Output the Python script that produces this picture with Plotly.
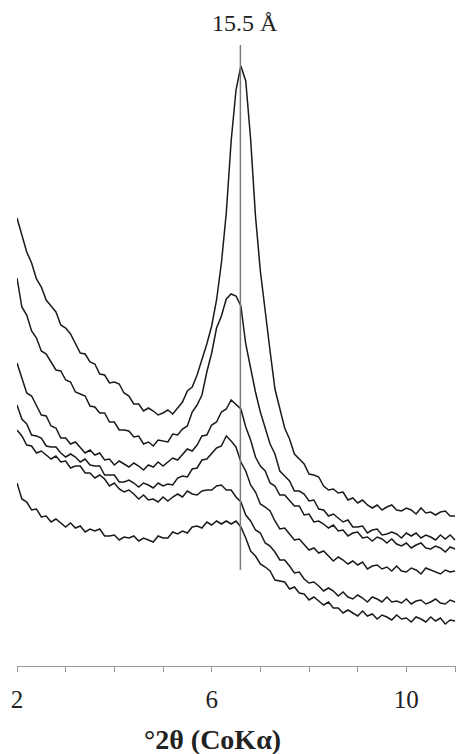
import plotly.graph_objects as go

# 2-theta grid (degrees, CoKa), 0.1 deg steps from 2.0 to 11.0
two_theta = [round(2.0 + 0.1 * i, 1) for i in range(91)]

# Intensities (arbitrary units, stacked patterns)
pattern_1 = [448, 432, 414, 403, 387, 379, 366, 360, 354, 341,
             338, 332, 322, 313, 312, 304, 302, 292, 291, 283,
             284, 282, 273, 270, 262, 262, 255, 258, 255, 251,
             253, 256, 252, 258, 264, 275, 279, 291, 306, 322,
             340, 366, 403, 453, 525, 576, 600, 585, 527, 450,
             395, 352, 315, 277, 257, 238, 227, 212, 207, 202,
             192, 191, 189, 180, 176, 177, 173, 174, 166, 168,
             163, 166, 161, 158, 161, 156, 159, 161, 156, 155,
             158, 156, 152, 158, 153, 154, 151, 154, 155, 150, 150]
pattern_2 = [388, 359, 351, 335, 328, 315, 312, 304, 296, 295,
             286, 284, 274, 272, 270, 260, 259, 253, 253, 244,
             244, 236, 236, 235, 229, 230, 222, 224, 220, 226,
             225, 224, 232, 231, 237, 240, 254, 261, 271, 294,
             313, 338, 350, 367, 372, 370, 360, 322, 298, 274,
             254, 239, 222, 212, 195, 190, 185, 175, 175, 172,
             165, 166, 157, 156, 150, 152, 148, 144, 146, 139,
             139, 140, 133, 136, 137, 131, 132, 134, 132, 128,
             133, 130, 133, 128, 131, 129, 126, 131, 127, 131, 126]
pattern_3 = [303, 287, 273, 270, 260, 251, 250, 240, 238, 228,
             228, 222, 224, 218, 213, 216, 211, 213, 206, 207,
             201, 205, 202, 199, 203, 200, 196, 201, 199, 204,
             200, 204, 208, 206, 212, 217, 215, 221, 230, 231,
             241, 244, 254, 257, 266, 261, 257, 239, 226, 209,
             200, 195, 183, 180, 171, 171, 165, 160, 160, 151,
             152, 144, 145, 142, 138, 141, 135, 136, 130, 133,
             134, 128, 129, 125, 129, 127, 123, 127, 122, 120,
             123, 118, 121, 123, 118, 117, 120, 118, 114, 119, 117]
pattern_4 = [261, 247, 242, 231, 230, 228, 220, 219, 219, 213,
             209, 212, 209, 204, 207, 201, 200, 200, 191, 191,
             191, 184, 184, 186, 183, 179, 183, 181, 178, 183,
             180, 182, 181, 188, 190, 189, 197, 198, 206, 207,
             213, 218, 220, 230, 225, 219, 204, 195, 181, 174,
             162, 159, 155, 145, 137, 138, 132, 126, 127, 122,
             116, 118, 113, 115, 110, 105, 109, 106, 102, 105,
             101, 104, 97, 100, 101, 97, 99, 95, 100, 95,
             94, 98, 96, 92, 98, 96, 94, 92, 96, 94, 95]
pattern_5 = [236, 230, 221, 220, 213, 215, 211, 207, 210, 204,
             205, 198, 200, 200, 193, 193, 188, 191, 187, 180,
             183, 177, 174, 176, 172, 167, 171, 166, 167, 164,
             169, 165, 169, 172, 169, 175, 172, 171, 175, 176,
             176, 180, 181, 176, 176, 169, 164, 151, 145, 136,
             133, 123, 120, 114, 106, 106, 100, 93, 94, 87,
             83, 84, 80, 75, 78, 75, 70, 74, 69, 67,
             71, 68, 64, 69, 67, 64, 69, 64, 65, 63,
             67, 62, 65, 66, 62, 64, 67, 63, 62, 66, 64]
pattern_6 = [183, 167, 164, 156, 157, 149, 150, 144, 147, 143,
             139, 143, 138, 140, 134, 137, 135, 137, 130, 130,
             131, 126, 129, 128, 130, 125, 128, 126, 124, 130,
             128, 128, 134, 132, 135, 133, 139, 140, 138, 144,
             141, 145, 142, 145, 142, 145, 139, 128, 115, 110,
             102, 99, 95, 86, 85, 84, 77, 79, 73, 72,
             66, 69, 65, 61, 64, 58, 58, 53, 56, 53,
             50, 55, 50, 52, 47, 51, 49, 46, 51, 47,
             48, 44, 49, 47, 44, 49, 45, 48, 42, 46, 45]

patterns = [pattern_1, pattern_2, pattern_3, pattern_4, pattern_5, pattern_6]

# reference d-spacing line
ref_label = "15.5 Å"
ref_two_theta = 6.59
ref_line_y = [96, 621]
ref_label_y = 643

x_tick_vals = [2, 3, 4, 5, 6, 7, 8, 9, 10, 11]
x_tick_text = ["2", "", "", "", "6", "", "", "", "10", ""]
x_title = "°2θ (CoKα)"

fig = go.Figure()

for p in reversed(patterns):
    fig.add_trace(go.Scatter(
        x=two_theta, y=p, mode="lines",
        line=dict(color="#1a1a1a", width=1.5),
        showlegend=False, hoverinfo="skip"))

fig.add_trace(go.Scatter(
    x=[ref_two_theta, ref_two_theta], y=ref_line_y, mode="lines",
    line=dict(color="#7a7a7a", width=1.5),
    showlegend=False, hoverinfo="skip"))

fig.add_annotation(x=ref_two_theta + 0.1, y=ref_label_y, xref="x", yref="y",
                   text=ref_label, showarrow=False,
                   font=dict(family="Liberation Serif", size=24, color="#222"))

fig.add_annotation(x=6.02, y=0, xref="x", yref="y", yshift=-73,
                   text="<b>" + x_title + "</b>", showarrow=False,
                   font=dict(family="Liberation Serif", size=28, color="#222"))

fig.update_layout(
    width=456, height=754,
    margin=dict(l=17, r=0, t=0, b=88),
    paper_bgcolor="white", plot_bgcolor="white",
    font=dict(family="Liberation Serif", size=25, color="#222"),
    xaxis=dict(range=[2, 11.02], tickvals=x_tick_vals, ticktext=x_tick_text,
               showgrid=False, zeroline=False, showline=True,
               linecolor="#999", linewidth=1.2, ticks="outside",
               ticklen=5, tickcolor="#999", tickwidth=1.2,
               ticklabelstandoff=6,
               tickfont=dict(family="Liberation Serif", size=25, color="#222")),
    yaxis=dict(range=[0, 666], visible=False, showgrid=False, zeroline=False),
)

fig.write_html("out.html", config={"displayModeBar": False},
               post_script="document.body.style.margin='0';")
